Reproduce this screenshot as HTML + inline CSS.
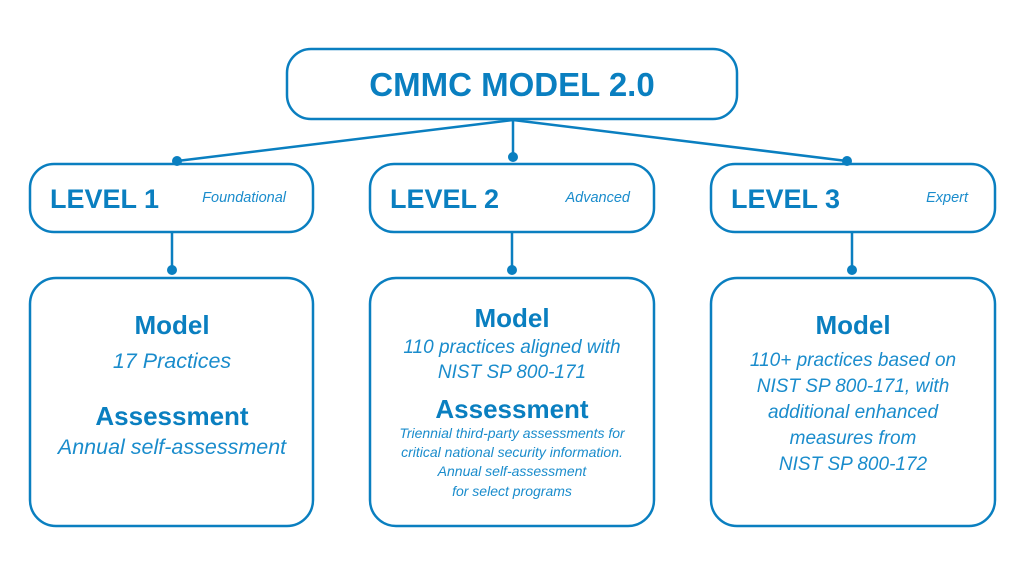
<!DOCTYPE html>
<html><head><meta charset="utf-8"><style>
html,body{margin:0;padding:0;background:#fff;}
svg{display:block;font-family:"Liberation Sans",sans-serif;}
.b{fill:#0a7fc0;font-weight:bold;}
.i{fill:#1a8ccc;font-style:italic;}
</style></head><body>
<svg width="1024" height="576" viewBox="0 0 1024 576">
<g fill="none" stroke="#0a7fc0" stroke-width="2.5">
<rect x="287" y="49" width="450" height="70" rx="24"/>
<rect x="30" y="164" width="283" height="68" rx="24"/>
<rect x="370" y="164" width="284" height="68" rx="24"/>
<rect x="711" y="164" width="284" height="68" rx="24"/>
<rect x="30" y="278" width="283" height="248" rx="26"/>
<rect x="370" y="278" width="284" height="248" rx="26"/>
<rect x="711" y="278" width="284" height="248" rx="26"/>
<path d="M513 120 L177 161 M513 120 L513 157 M513 120 L847 161 M172 232 L172 270 M512 232 L512 270 M852 232 L852 270"/>
</g>
<g fill="#0a7fc0">
<circle cx="177" cy="161" r="5"/><circle cx="513" cy="157" r="5"/><circle cx="847" cy="161" r="5"/>
<circle cx="172" cy="270" r="5"/><circle cx="512" cy="270" r="5"/><circle cx="852" cy="270" r="5"/>
</g>
<text x="512" y="96" text-anchor="middle" class="b" font-size="33">CMMC MODEL 2.0</text>
<text x="50" y="208" class="b" font-size="27">LEVEL 1</text>
<text x="286" y="202" text-anchor="end" class="i" font-size="14.5">Foundational</text>
<text x="390" y="208" class="b" font-size="27">LEVEL 2</text>
<text x="630" y="202" text-anchor="end" class="i" font-size="14.5">Advanced</text>
<text x="731" y="208" class="b" font-size="27">LEVEL 3</text>
<text x="968" y="202" text-anchor="end" class="i" font-size="14.5">Expert</text>
<g text-anchor="middle">
<text x="172" y="334" class="b" font-size="26">Model</text>
<text x="172" y="368" class="i" font-size="21.5">17 Practices</text>
<text x="172" y="425" class="b" font-size="26">Assessment</text>
<text x="172" y="454" class="i" font-size="21.5">Annual self-assessment</text>

<text x="512" y="327" class="b" font-size="26">Model</text>
<text x="512" y="353" class="i" font-size="19">110 practices aligned with</text>
<text x="512" y="378" class="i" font-size="19">NIST SP 800-171</text>
<text x="512" y="418" class="b" font-size="26">Assessment</text>
<text x="512" y="438" class="i" font-size="14">Triennial third-party assessments for</text>
<text x="512" y="457" class="i" font-size="14">critical national security information.</text>
<text x="512" y="476" class="i" font-size="14">Annual self-assessment</text>
<text x="512" y="496" class="i" font-size="14">for select programs</text>

<text x="853" y="334" class="b" font-size="26">Model</text>
<text x="853" y="366" class="i" font-size="19">110+ practices based on</text>
<text x="853" y="392" class="i" font-size="19">NIST SP 800-171, with</text>
<text x="853" y="418" class="i" font-size="19">additional enhanced</text>
<text x="853" y="444" class="i" font-size="19">measures from</text>
<text x="853" y="470" class="i" font-size="19">NIST SP 800-172</text>
</g>
</svg>
</body></html>
